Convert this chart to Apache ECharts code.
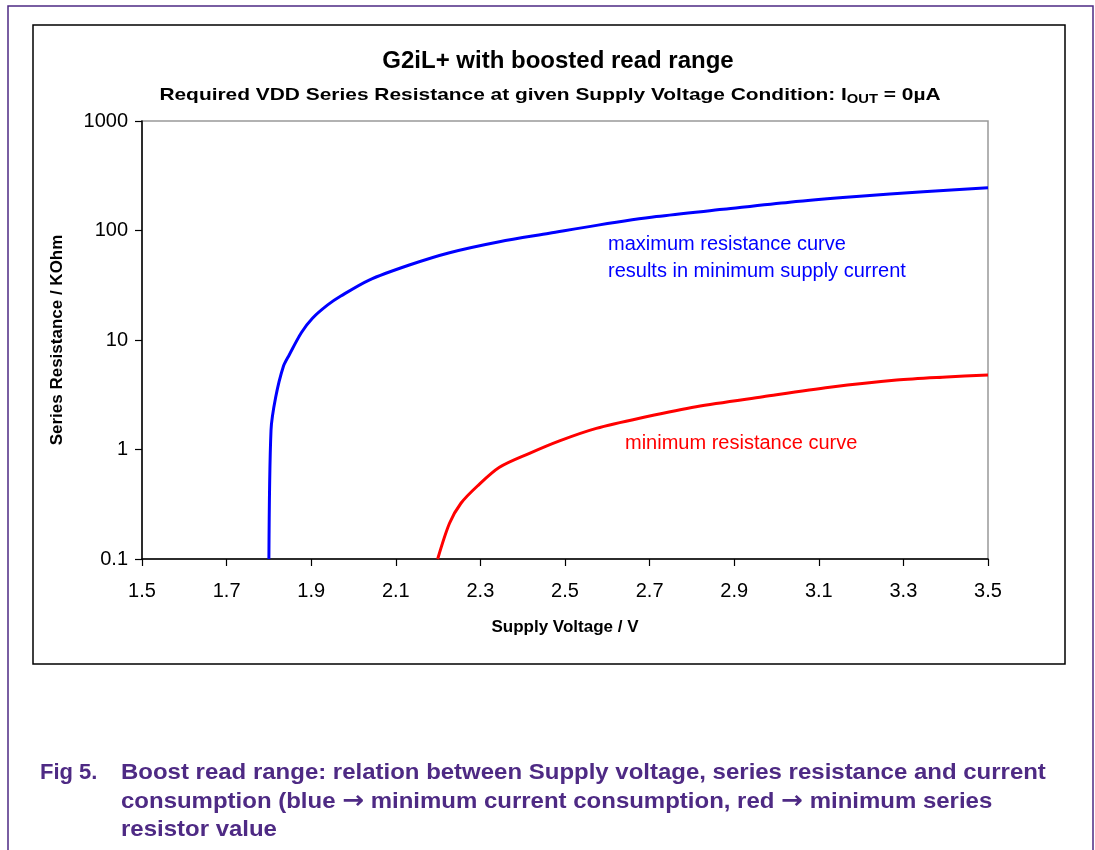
<!DOCTYPE html>
<html>
<head>
<meta charset="utf-8">
<script src="https://cdn.jsdelivr.net/npm/echarts@6/dist/echarts.min.js"></script>
<style>
  html, body { margin: 0; padding: 0; background: #fff; }
  #chart { width: 1095px; height: 850px; }
</style>
</head>
<body>
<div id="chart"></div>
<script>
// data
var maxVoltage = [1.80, 1.805, 1.816, 1.834, 1.848, 1.877, 1.903, 1.939, 1.970, 2.037, 2.132, 2.227, 2.345, 2.463, 2.578, 2.716, 2.874, 3.031, 3.189, 3.347, 3.5];
var maxResistance = [0.1, 1.5, 3.0, 5.7, 7.3, 11.7, 15.8, 20.9, 25.2, 35.3, 48.4, 62.7, 79, 94.3, 112, 134, 156, 181, 204, 226, 246];

var minVoltage = [2.199, 2.227, 2.254, 2.293, 2.345, 2.416, 2.487, 2.574, 2.692, 2.810, 2.968, 3.126, 3.284, 3.402, 3.5];
var minResistance = [0.1, 0.212, 0.323, 0.464, 0.688, 0.923, 1.20, 1.56, 1.99, 2.46, 3.03, 3.70, 4.31, 4.6, 4.8];

var xTicks = [1.5, 1.7, 1.9, 2.1, 2.3, 2.5, 2.7, 2.9, 3.1, 3.3, 3.5];
var yTicks = [0.1, 1, 10, 100, 1000];

function pairs(xs, ys) {
  return xs.map(function (x, i) { return [x, ys[i]]; });
}

var FONT = '"Liberation Sans", Arial, sans-serif';
var PURPLE = '#4E2A84';

var chart = echarts.init(document.getElementById('chart'));

var option = {
  animation: false,
  backgroundColor: '#fff',
  grid: {
    left: 142, top: 121, width: 846, height: 438,
    show: true, borderColor: '#999', borderWidth: 1.5, backgroundColor: '#fff'
  },
  xAxis: {
    type: 'value',
    min: 1.5, max: 3.5,
    name: 'Supply Voltage / V',
    nameLocation: 'middle',
    nameGap: 60,
    nameTextStyle: { fontFamily: FONT, fontSize: 17, fontWeight: 'bold', color: '#000' },
    axisLine: { show: true, lineStyle: { color: '#000', width: 1.5 } },
    axisTick: { show: true, inside: false, length: 7, lineStyle: { color: '#000', width: 1.2 }, customValues: xTicks },
    axisLabel: {
      customValues: xTicks,
      margin: 22,
      fontFamily: FONT, fontSize: 20, color: '#000',
      formatter: function (v) { return v.toFixed(1); }
    },
    splitLine: { show: false }
  },
  yAxis: {
    type: 'log',
    logBase: 10,
    min: 0.1, max: 1000,
    name: 'Series Resistance / KOhm',
    nameLocation: 'middle',
    nameGap: 76,
    nameTextStyle: { fontFamily: FONT, fontSize: 17, fontWeight: 'bold', color: '#000' },
    axisLine: { show: true, lineStyle: { color: '#000', width: 1.5 } },
    axisTick: { show: true, inside: false, length: 7, lineStyle: { color: '#000', width: 1.2 }, customValues: yTicks },
    axisLabel: {
      customValues: yTicks,
      margin: 14,
      fontFamily: FONT, fontSize: 20, color: '#000',
      formatter: function (v) { return String(Math.round(v * 10) / 10); }
    },
    splitLine: { show: false },
    minorTick: { show: false }
  },
  series: [{
    name: 'maximum',
    type: 'line',
    data: pairs(maxVoltage, maxResistance),
    showSymbol: false,
    smooth: 0.3,
    lineStyle: { color: '#0000FF', width: 3 },
    z: 3
  }, {
    name: 'minimum',
    type: 'line',
    data: pairs(minVoltage, minResistance),
    showSymbol: false,
    smooth: 0.3,
    lineStyle: { color: '#FF0000', width: 3 },
    z: 3
  }],
  graphic: [
    // page frame
    { type: 'rect', shape: { x: 8, y: 6, width: 1085, height: 900 }, style: { fill: 'none', stroke: PURPLE, lineWidth: 1.5 }, z: -10 },
    // chart box
    { type: 'rect', shape: { x: 33, y: 25, width: 1032, height: 639 }, style: { fill: 'none', stroke: '#000', lineWidth: 1.5 }, z: -10 },
    // titles (subtitle is stretched wide in the original)
    { type: 'text', x: 558, y: 61, style: {
        text: 'G2iL+ with boosted read range', x: 0, y: 0, align: 'center', verticalAlign: 'middle',
        fill: '#000', font: 'bold 24px ' + FONT }, z: 10 },
    { type: 'text', x: 550, y: 95, scaleX: 1.23, style: {
        text: 'Required VDD Series Resistance at given Supply Voltage Condition: I{sub|OUT} = 0µA',
        x: 0, y: 0, align: 'center', verticalAlign: 'middle',
        fill: '#000', font: 'bold 17px ' + FONT,
        rich: { sub: { font: 'bold 12px ' + FONT, fill: '#000', padding: [9, 0, 0, 0] } } }, z: 10 },
    // annotations
    { type: 'text', left: 608, top: 231, style: { text: 'maximum resistance curve\nresults in minimum supply current', fill: '#0000FF', font: '20px ' + FONT, lineHeight: 27 }, z: 10 },
    { type: 'text', left: 625, top: 433, style: { text: 'minimum resistance curve', fill: '#FF0000', font: '20px ' + FONT }, z: 10 },
    // caption
    { type: 'text', x: 40, y: 759, style: { text: 'Fig 5.', x: 0, y: 0, fill: PURPLE, font: 'bold 22px ' + FONT, lineHeight: 28.5 }, z: 10 },
    { type: 'text', x: 121, y: 759, scaleX: 1.09, style: {
        text: 'Boost read range: relation between Supply voltage, series resistance and current\nconsumption (blue {arr|\u2192} minimum current consumption, red {arr|\u2192} minimum series\nresistor value',
        x: 0, y: 0, fill: PURPLE, font: 'bold 22px ' + FONT, lineHeight: 28.5,
        rich: { arr: { font: 'bold 24px "DejaVu Sans", sans-serif', fill: PURPLE, lineHeight: 28.5 } } }, z: 10 }
  ]
};

chart.setOption(option);
</script>
</body>
</html>
